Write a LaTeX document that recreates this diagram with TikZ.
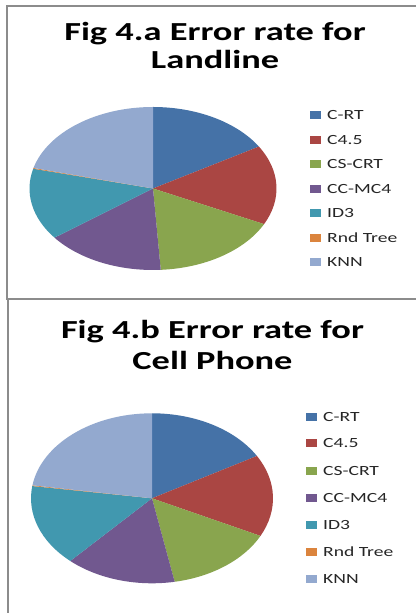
\documentclass[tikz,border=0pt]{standalone}
\usepackage{fontspec}
\setmainfont{Carlito}
\definecolor{cCRT}{HTML}{4572A7}
\definecolor{cCF}{HTML}{AA4643}
\definecolor{cCS}{HTML}{89A54E}
\definecolor{cCC}{HTML}{71588F}
\definecolor{cID}{HTML}{4198AF}
\definecolor{cRND}{HTML}{DB843D}
\definecolor{cKNN}{HTML}{93A9CF}
\definecolor{frameg}{HTML}{8C8C8C}
\newcommand\pieslice[6]{\fill[#6] (#1) -- ++(#4:#2pt and #3pt) arc[start angle=#4, end angle=#5, x radius=#2pt, y radius=#3pt] -- cycle;}
\newcommand\wide[1]{\scalebox{1.4}[1]{#1}}
\begin{document}
\begin{tikzpicture}[x=1pt,y=1pt,
  frame/.style={draw=frameg, line width=1.3pt},
  ttl/.style={font=\bfseries\fontsize{26}{30}\selectfont, anchor=base, inner sep=0pt, text=black},
  leg/.style={font=\fontsize{14}{16}\selectfont, anchor=base west, inner sep=0pt, text=black!85},
  sw/.style={minimum width=11pt, minimum height=8pt, inner sep=0pt, anchor=west}]
\useasboundingbox (0,0) rectangle (416,613);
\fill[white] (0,0) rectangle (416,613);
% frames
\draw[frame] (416,607) -- (7,607) -- (7,314) -- (416,314);
\draw[frame] (8,313) -- (8,0);
% ---------- chart a ----------
\coordinate (ca) at (153,424.5);
\pieslice{ca}{123.5}{81.5}{90}{30.96}{cCRT}
\pieslice{ca}{123.5}{81.5}{30.96}{-25.92}{cCF}
\pieslice{ca}{123.5}{81.5}{-25.92}{-86.4}{cCS}
\pieslice{ca}{123.5}{81.5}{-86.4}{-142.92}{cCC}
\pieslice{ca}{123.5}{81.5}{-142.92}{-194.04}{cID}
\pieslice{ca}{123.5}{81.5}{-194.04}{-194.6}{cRND}
\pieslice{ca}{123.5}{81.5}{-194.6}{-270}{cKNN}
\node[ttl] (ta1) at (215,572.3) {\wide{Fig 4.a Error rate for}};
\node[ttl] (ta2) at (215,544) {\wide{Landline}};
\foreach \n/\y/\c/\t in {1/498/cCRT/C-RT, 2/473/cCF/C4.5, 3/448.7/cCS/CS-CRT, 4/424/cCC/CC-MC4, 5/399.7/cID/ID3, 6/374.7/cRND/Rnd Tree, 7/350.7/cKNN/KNN}{
  \node[sw, fill=\c] (sa\n) at (310,\y) {};
  \node[leg] (la\n) at (327,\y-4.5) {\wide{\t}};
}
% ---------- chart b ----------
\coordinate (cb) at (152,114.7);
\pieslice{cb}{121}{85}{90}{29.88}{cCRT}
\pieslice{cb}{121}{85}{29.88}{-26.28}{cCF}
\pieslice{cb}{121}{85}{-26.28}{-79.2}{cCS}
\pieslice{cb}{121}{85}{-79.2}{-132.48}{cCC}
\pieslice{cb}{121}{85}{-132.48}{-188.28}{cID}
\pieslice{cb}{121}{85}{-188.28}{-188.8}{cRND}
\pieslice{cb}{121}{85}{-188.8}{-270}{cKNN}
\node[ttl] (tb1) at (212.5,274.7) {\wide{Fig 4.b Error rate for}};
\node[ttl] (tb2) at (212.5,243) {\wide{Cell Phone}};
\foreach \n/\y/\c/\t in {1/195.7/cCRT/C-RT, 2/169.7/cCF/C4.5, 3/142.3/cCS/CS-CRT, 4/114.7/cCC/CC-MC4, 5/88/cID/ID3, 6/60.7/cRND/Rnd Tree, 7/34/cKNN/KNN}{
  \node[sw, fill=\c] (sb\n) at (306,\y) {};
  \node[leg] (lb\n) at (323,\y-4.5) {\wide{\t}};
}
\end{tikzpicture}
\end{document}
